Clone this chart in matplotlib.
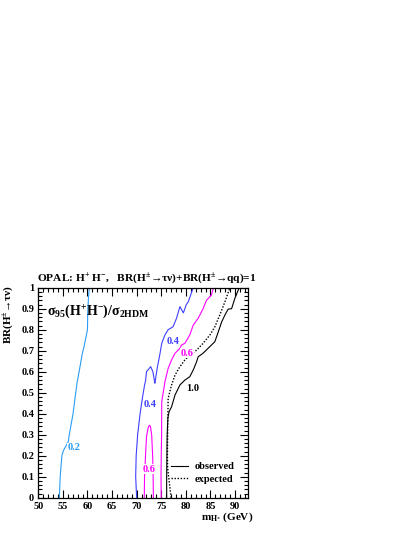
import numpy as np
import matplotlib
matplotlib.use('Agg')
import matplotlib.pyplot as plt
from matplotlib.ticker import MultipleLocator, FuncFormatter

plt.rcParams['font.family'] = ['Liberation Serif', 'DejaVu Serif']
plt.rcParams['font.weight'] = 'bold'
plt.rcParams['mathtext.fontset'] = 'custom'
plt.rcParams['mathtext.rm'] = 'Liberation Serif:bold'
plt.rcParams['mathtext.bf'] = 'Liberation Serif:bold'
plt.rcParams['mathtext.it'] = 'Liberation Serif:italic:bold'
plt.rcParams['mathtext.default'] = 'bf'

# contour 0.2 (light blue)
c02_m = [54.27, 54.45, 54.8, 55.1, 56.1, 56.3, 57.05, 57.5, 57.9, 58.3, 58.9, 59.3, 60.0, 60.05, 60.2, 60.37]
c02_br = [0.0, 0.1, 0.2, 0.224, 0.267, 0.30, 0.398, 0.48, 0.55, 0.60, 0.68, 0.72, 0.80, 0.88, 0.95, 1.0]

# contour 0.4 (blue)
c04_m = [70.0, 69.8, 69.9, 70.2, 70.7, 71.2, 71.6, 71.83, 72.0, 72.85, 73.3, 73.7, 73.8, 74.2, 74.7, 75.1,
         75.75, 76.4, 77.4, 78.1, 78.8, 79.5, 80.1, 80.5, 81.5]
c04_br = [0.0, 0.1, 0.2, 0.3, 0.4, 0.48, 0.535, 0.56, 0.60, 0.624, 0.60, 0.545, 0.56, 0.62, 0.68, 0.735,
          0.775, 0.80, 0.814, 0.854, 0.91, 0.88, 0.92, 0.933, 1.0]

# contour 0.6 island (magenta)
c06a_m = [71.55, 71.6, 71.8, 72.0, 72.3, 72.55, 72.8, 73.05, 73.25, 73.35, 73.4]
c06a_br = [0.0, 0.1, 0.2, 0.29, 0.33, 0.345, 0.34, 0.30, 0.2, 0.1, 0.0]

# contour 0.6 main (magenta)
c06b_m = [75.0, 74.95, 75.0, 75.07, 75.1, 75.75, 76.4, 77.1, 77.8, 78.8, 79.1, 79.8, 80.8, 81.5,
          82.5, 83.5, 84.2, 85.2, 85.6]
c06b_br = [0.0, 0.1, 0.2, 0.3, 0.457, 0.552, 0.616, 0.656, 0.688, 0.711, 0.727, 0.735, 0.775, 0.822,
           0.854, 0.90, 0.94, 0.965, 1.0]

# observed limit (ratio 1.0)
obs_m = [76.1, 76.1, 76.15, 76.2, 76.35, 76.6, 77.1, 77.8, 78.8, 79.8, 80.8, 81.5, 82.2, 82.5, 83.5,
         84.9, 85.9, 86.6, 87.3, 87.95, 88.6, 89.3, 89.98, 90.85]
obs_br = [0.0, 0.1, 0.2, 0.3, 0.38, 0.41, 0.433, 0.489, 0.537, 0.56, 0.576, 0.608, 0.648, 0.671, 0.688,
          0.72, 0.743, 0.79, 0.838, 0.87, 0.898, 0.90, 0.95, 1.0]

# expected limit
exp_m = [77.0, 76.6, 76.3, 76.25, 76.3, 76.4, 77.1, 77.8, 78.8, 79.8, 80.8, 82.2, 83.5, 84.9, 85.9,
         86.9, 87.95, 88.96]
exp_br = [0.0, 0.08, 0.14, 0.2, 0.3, 0.473, 0.537, 0.584, 0.624, 0.656, 0.68, 0.703, 0.735, 0.775,
          0.814, 0.87, 0.933, 1.0]

W, H = 415, 537
fig = plt.figure(figsize=(W / 100, H / 100), dpi=100)
ax = fig.add_axes([38.3 / W, (H - 497.7) / H, 210 / W, 210 / H])

lw = 0.8
ax.plot(c02_m, c02_br, color='#2a9df4', lw=lw)
ax.plot(c04_m, c04_br, color='#3f3fff', lw=lw)
ax.plot(c06a_m, c06a_br, color='#ff00ff', lw=lw)
ax.plot(c06b_m, c06b_br, color='#ff00ff', lw=lw)
l_obs, = ax.plot(obs_m, obs_br, color='black', lw=lw)
l_exp, = ax.plot(exp_m, exp_br, color='black', lw=1.0, ls=(0, (1, 1.2)))

# contour labels
lab = dict(fontsize=7.5, fontweight='bold', ha='center', va='center',
           bbox=dict(facecolor='white', edgecolor='none', pad=0.3))
ax.text(57.3, 0.238, '0.2', color='#2a9df4', **lab)
ax.text(72.7, 0.446, '0.4', color='#3f3fff', **lab)
ax.text(77.4, 0.746, '0.4', color='#3f3fff', **lab)
ax.text(72.55, 0.135, '0.6', color='#ff00ff', **lab)
ax.text(80.3, 0.688, '0.6', color='#ff00ff', **lab)
ax.text(81.3, 0.52, '1.0', color='black', **lab)

ax.text(51.7, 0.888, 'σ$_{95}$(H$^{+}$H$^{-}$)/σ$_{2HDM}$', fontsize=10,
        fontweight='bold', ha='left', va='center')

ax.set_xlim(50, 92.7)
ax.set_ylim(0, 1)
ax.xaxis.set_major_locator(MultipleLocator(5))
ax.xaxis.set_minor_locator(MultipleLocator(1))
ax.yaxis.set_major_locator(MultipleLocator(0.1))
ax.yaxis.set_minor_locator(MultipleLocator(0.02))
ax.yaxis.set_major_formatter(FuncFormatter(lambda v, p: '%g' % round(v, 2)))
ax.tick_params(which='both', direction='in', top=True, right=True, labelsize=7.5, width=0.8)
ax.tick_params(which='major', length=6, pad=3)
ax.tick_params(which='minor', length=3)
for s in ax.spines.values():
    s.set_linewidth(0.9)

leg = ax.legend([l_obs, l_exp], ['observed', 'expected'], loc='lower right',
                bbox_to_anchor=(0.97, 0.03), frameon=False, fontsize=7.5,
                handlelength=1.6, handletextpad=0.7, labelspacing=0.35, borderpad=0.2)

fig.text(36.7 / W, 1 - 279 / H, 'OPAL: H$^{+}$ H$^{-}$,   BR(H$^{\\pm}$→τν)+BR(H$^{\\pm}$→qq)=1',
         fontsize=8.2, fontweight='bold', ha='left', va='center')
fig.text(253.3 / W, 1 - 517.7 / H, 'm$_{H^{\\pm}}$ (GeV)', fontsize=8,
         fontweight='bold', ha='right', va='center')
fig.text(9 / W, 1 - 285 / H, 'BR(H$^{\\pm}$→τν)', fontsize=8, fontweight='bold',
         rotation=90, ha='center', va='top')

fig.savefig('out.png', dpi=100)
